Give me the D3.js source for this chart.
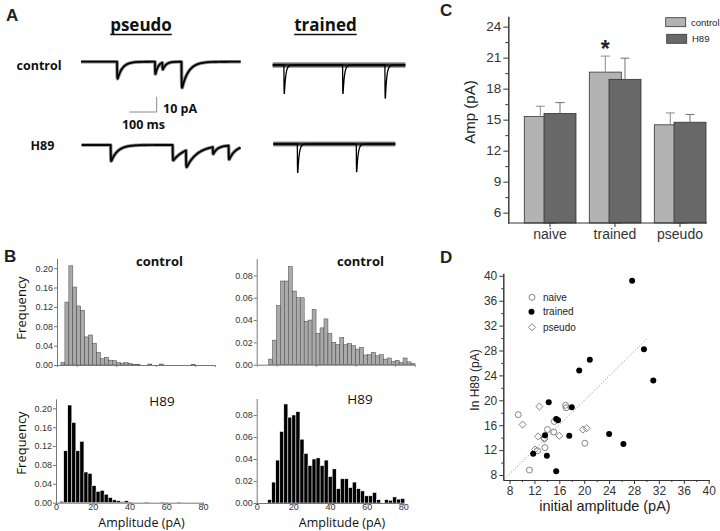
<!DOCTYPE html>
<html>
<head>
<meta charset="utf-8">
<script src="https://cdn.jsdelivr.net/npm/d3@7"></script>
<style>
body { margin: 0; background: #fff; }
svg { display: block; background: #fff; }
.ax path, .ax line { stroke: #777; }
.axd path, .axd line { stroke: #333; }
.ax text, .axd text { font-family: Arial, 'Liberation Sans', sans-serif; fill: #333; }
.cal { font-family: 'Open Sans', sans-serif; fill: #111; }
.ar { font-family: Arial, 'Liberation Sans', sans-serif; fill: #222; }
</style>
</head>
<body>
<svg id="fig" width="720" height="531"></svg>
<script>
/*=================
=== Data
=================*/
// A: synaptic events in each trace [onset ms, amplitude pA, decay ms]
var pseudoCtrlEvents = [[132, 11, 18], [271, 8, 10], [298, 4.5, 12], [368, 17, 24]];
var trainedCtrlEvents = [[41, 19, 5], [256, 19, 5], [411, 22, 5]];
var pseudoH89Events = [[106, 10.5, 24], [333, 10, 45], [382, 11, 40], [480, 4.5, 14], [538, 9, 24]];
var trainedH89Events = [[88, 19, 5], [304, 18.5, 5]];
var traceDur = [585, 486, 582, 447]; // ms

// B: amplitude histograms (frequency per bin)
var binStart = [2, 6, 2, 6];          // pA, first bin of each panel
var binWidth = [2, 2, 2.2, 2.2];      // pA
var freqPseudoCtrl = [0.005, 0.13, 0.205, 0.161, 0.122, 0.113, 0.058, 0.062, 0.045, 0.026, 0.013, 0.016,
	0.01, 0.009, 0.005, 0.004, 0.005, 0.003, 0.001, 0.001, 0, 0, 0.002, 0, 0, 0.002, 0, 0, 0, 0, 0, 0, 0, 0.001];
var freqTrainedCtrl = [0.005, 0.022, 0.053, 0.075, 0.075, 0.088, 0.066, 0.06, 0.06, 0.039, 0.04, 0.0495,
	0.028, 0.033, 0.041, 0.028, 0.02, 0.018, 0.0245, 0.018, 0.019, 0.017, 0.014, 0.0155, 0.0087, 0.009,
	0.011, 0.008, 0.009, 0.005, 0.006, 0.003, 0.004, 0.002, 0.006, 0.0025, 0.001];
var freqPseudoH89 = [0.003, 0.11, 0.207, 0.17, 0.11, 0.13, 0.065, 0.062, 0.036, 0.024, 0.026, 0.018,
	0.011, 0.006, 0.004, 0.002, 0.004, 0.001, 0, 0, 0, 0.001, 0, 0, 0, 0.001, 0, 0, 0, 0.001];
var freqTrainedH89 = [0.003, 0.019, 0.039, 0.065, 0.090, 0.078, 0.080, 0.083, 0.058, 0.045, 0.034, 0.040,
	0.041, 0.034, 0.039, 0.024, 0.031, 0.013, 0.022, 0.022, 0.014, 0.019, 0.013, 0.011, 0.0065, 0.0065,
	0.0095, 0.003, 0, 0.003, 0.0025, 0.0055, 0.0035, 0.004];
var freqTicksPseudo = [0, 0.04, 0.08, 0.12, 0.16, 0.20];
var freqTicksTrained = [0, 0.02, 0.04, 0.06, 0.08];
var ampTicks = [0, 20, 40, 60, 80];

// C: mean amplitude +/- SEM
var groups = ['naive', 'trained', 'pseudo'];
var ctrlMean = [15.3, 19.6, 14.5];
var ctrlSem = [1.0, 1.55, 1.15];
var h89Mean = [15.6, 18.9, 14.75];
var h89Sem = [1.05, 2.05, 0.75];
var ampTicksC = [6, 9, 12, 15, 18, 21, 24];

// D: initial amplitude vs amplitude in H89 [x, y]
var naivePts = [[9.4, 17.7], [11.2, 8.8], [12.5, 11.9], [14.1, 15.3], [15.1, 14.9], [15.2, 16.6],
	[17.0, 19.2], [17.1, 18.8], [13.7, 12.4], [20.1, 13.1], [13.6, 13.9]];
var trainedPts = [[27.7, 39.2], [29.6, 28.2], [20.9, 26.5], [19.2, 24.8], [31.1, 23.2], [14.3, 19.7],
	[18.0, 18.9], [15.5, 17.0], [15.8, 16.8], [13.7, 14.4], [17.6, 14.3], [24.0, 14.6], [26.3, 13.0],
	[11.8, 11.4], [14.0, 11.1], [15.5, 8.6]];
var pseudoPts = [[12.8, 19.0], [10.1, 16.1], [12.6, 14.2], [13.6, 13.8], [12.1, 12.1], [16.0, 14.3],
	[19.8, 15.3], [20.4, 15.5]];
var fitLine = [[7.2, 7.4], [30.1, 29.9]];
var scatterTicks = [8, 12, 16, 20, 24, 28, 32, 36, 40];
var scatterMinor = [10, 14, 18, 22, 26, 30, 34, 38];

var svg = d3.select('#fig');

function panelLabel(txt, x, y) {
	svg.append('text').attr('class', 'ar').attr('x', x).attr('y', y)
		.attr('font-size', 17).attr('font-weight', 'bold').attr('fill', '#000').text(txt);
}

/*=================
=== A: traces
=================*/
var msScale = d3.scaleLinear([0, 100], [0, 27.3]);
var paScale = d3.scaleLinear([0, 10], [0, 15.3]);

function current(events, t) {
	var v = 0;
	events.forEach(e => {
		var dt = t - e[0];
		if (dt < 0) return;
		var r = 0.6, d = e[2];
		var tp = r * Math.log((r + d) / r);
		var peak = (1 - Math.exp(-tp / r)) * Math.exp(-tp / d);
		v -= e[1] * (1 - Math.exp(-dt / r)) * Math.exp(-dt / d) / peak;
	});
	return v;
}

// band = width of the noisy baseline; slow traces carry the band along the events
function drawTrace(events, dur, x0, base, band, bandFollows) {
	var x = d3.scaleLinear([0, dur], [x0, x0 + msScale(dur)]);
	var y = d3.scaleLinear([-10, 0], [base + paScale(10), base]);
	var pts = d3.range(0, dur, 0.5).map(t => [t, current(events, t)]);
	var line = d3.line().x(d => x(d[0])).y(d => y(d[1]));
	var bandPts = bandFollows ? pts : [[0, 0], [dur, 0]];
	svg.append('path').attr('d', line(bandPts)).attr('fill', 'none')
		.attr('stroke', '#8a8a8a').attr('stroke-width', band).attr('stroke-linejoin', 'round');
	svg.append('path').attr('d', line(bandPts)).attr('fill', 'none')
		.attr('stroke', '#222').attr('stroke-width', band * 0.5).attr('stroke-linejoin', 'round');
	svg.append('path').attr('d', line(pts)).attr('fill', 'none')
		.attr('stroke', '#000').attr('stroke-width', 1.3);
}

panelLabel('A', 6, 21);

[['pseudo', 141], ['trained', 325.5]].forEach(d => {
	var t = svg.append('text').attr('class', 'cal').attr('x', d[1]).attr('y', 31)
		.attr('text-anchor', 'middle').attr('font-size', 17).attr('font-weight', 'bold').text(d[0]);
	var w = t.node().getComputedTextLength();
	svg.append('line').attr('x1', d[1] - w / 2).attr('x2', d[1] + w / 2)
		.attr('y1', 34.5).attr('y2', 34.5).attr('stroke', '#111').attr('stroke-width', 1.4);
});

svg.append('text').attr('class', 'cal').attr('x', 16.5).attr('y', 70)
	.attr('font-size', 12.5).attr('font-weight', 'bold').text('control');
svg.append('text').attr('class', 'cal').attr('x', 30.5).attr('y', 150)
	.attr('font-size', 12.5).attr('font-weight', 'bold').text('H89');

drawTrace(pseudoCtrlEvents, traceDur[0], 81, 61.7, 3.6, true);
drawTrace(trainedCtrlEvents, traceDur[1], 272.7, 65, 5.5, false);
drawTrace(pseudoH89Events, traceDur[2], 81.7, 145, 3.6, true);
drawTrace(trainedH89Events, traceDur[3], 273.3, 144, 5, false);

// scale bar
var sbX = 156.7, sbY = 112;
svg.append('path')
	.attr('d', `M${sbX - msScale(100)},${sbY}H${sbX}V${sbY - paScale(10)}`)
	.attr('fill', 'none').attr('stroke', '#888').attr('stroke-width', 1);
svg.append('text').attr('class', 'cal').attr('x', 163).attr('y', 113)
	.attr('font-size', 12.5).attr('font-weight', 'bold').text('10 pA');
svg.append('text').attr('class', 'cal').attr('x', 143.5).attr('y', 129)
	.attr('text-anchor', 'middle').attr('font-size', 12.5).attr('font-weight', 'bold').text('100 ms');

/*=================
=== B: histograms
=================*/
panelLabel('B', 4, 262);

function drawHist(freq, i, xr, yr, ymax, yticks, xlab, fill, stroke) {
	var g = svg.append('g');
	var x = d3.scaleLinear([0, 80], xr);
	var y = d3.scaleLinear([0, ymax], yr);

	g.selectAll('rect').data(freq).join('rect')
		.attr('x', (d, k) => x(binStart[i] + k * binWidth[i]))
		.attr('width', x(binWidth[i]) - x(0))
		.attr('y', d => y(d))
		.attr('height', d => y(0) - y(d))
		.attr('fill', fill).attr('stroke', stroke).attr('stroke-width', 0.5);

	var xAxis = d3.axisBottom(x).tickSizeOuter(0).tickSize(2).tickPadding(-1);
	if (xlab) xAxis.tickValues(ampTicks).tickFormat(d3.format('d'));
	else xAxis.tickValues([10, 30, 50, 70]).tickFormat('');
	g.append('g').attr('class', 'ax').attr('transform', `translate(0,${y(0)})`)
		.call(xAxis).attr('font-size', 9).attr('font-family', null);

	g.append('g').attr('class', 'ax').attr('transform', `translate(${xr[0]},0)`)
		.call(d3.axisLeft(y).tickValues(yticks).tickFormat(d3.format('.2f')).tickSize(3).tickPadding(1).tickSizeOuter(0))
		.attr('font-size', 9).attr('font-family', null);

	if (xlab) {
		svg.append('text').attr('class', 'cal').attr('x', (xr[0] + xr[1]) / 2 + 12).attr('y', 526.5)
			.attr('text-anchor', 'middle').attr('font-size', 12.5).attr('fill', '#222').text('Amplitude (pA)');
	}
}

drawHist(freqPseudoCtrl, 0, [57, 215], [365, 258.5], 0.22, freqTicksPseudo, false, '#aaa', '#444');
drawHist(freqTrainedCtrl, 1, [256.7, 415], [364.7, 258.7], 0.095, freqTicksTrained, false, '#aaa', '#444');
drawHist(freqPseudoH89, 2, [56, 203], [502.7, 398.9], 0.22, freqTicksPseudo, true, '#000', '#fff');
drawHist(freqTrainedH89, 3, [256.7, 403.3], [503, 398.5], 0.095, freqTicksTrained, true, '#000', '#fff');

[[159.5, 266], [360.5, 266]].forEach(d => {
	svg.append('text').attr('class', 'cal').attr('x', d[0]).attr('y', d[1])
		.attr('text-anchor', 'middle').attr('font-size', 13).attr('font-weight', 'bold').text('control');
});
[[162, 406], [360, 404]].forEach(d => {
	svg.append('text').attr('class', 'cal').attr('x', d[0]).attr('y', d[1])
		.attr('text-anchor', 'middle').attr('font-size', 13.5).text('H89');
});
[308, 443].forEach(cy => {
	svg.append('text').attr('class', 'cal').attr('transform', `translate(26,${cy}) rotate(-90)`)
		.attr('text-anchor', 'middle').attr('font-size', 13).attr('fill', '#222').text('Frequency');
});

/*=================
=== C: bar chart
=================*/
panelLabel('C', 440, 16);

var xC = d3.scaleBand(groups, [517.5, 712.5]);
var yC = d3.scaleLinear([5, 25], [223, 16.3]);
var gC = svg.append('g');
var barW = 32;

function drawBars(means, sems, off, fill, errCol) {
	gC.selectAll(null).data(means).join('rect')
		.attr('x', (d, i) => xC(groups[i]) + xC.bandwidth() / 2 + off)
		.attr('y', d => yC(d))
		.attr('width', barW)
		.attr('height', d => yC(5) - yC(d))
		.attr('fill', fill).attr('stroke', '#333').attr('stroke-width', 0.8);
	var cx = i => xC(groups[i]) + xC.bandwidth() / 2 + off + barW / 2;
	gC.selectAll(null).data(means).join('path')
		.attr('d', (d, i) => `M${cx(i)},${yC(d)}V${yC(d + sems[i])}M${cx(i) - 4.5},${yC(d + sems[i])}H${cx(i) + 4.5}`)
		.attr('fill', 'none').attr('stroke', errCol).attr('stroke-width', 1);
}
drawBars(ctrlMean, ctrlSem, -25.7, '#b3b3b3', '#8a8a8a');
drawBars(h89Mean, h89Sem, -6, '#686868', '#707070');

gC.append('g').attr('class', 'axd').attr('transform', 'translate(508.3,0)')
	.call(d3.axisLeft(yC).tickValues(d3.range(7.5, 25, 3)).tickFormat('').tickSize(3).tickSizeOuter(0));
gC.append('g').attr('class', 'axd').attr('transform', 'translate(508.3,0)')
	.call(d3.axisLeft(yC).tickValues(ampTicksC).tickSize(5).tickPadding(2).tickSizeOuter(0))
	.attr('font-size', 13.5).attr('font-family', null);
var xAxC = gC.append('g').attr('class', 'axd').attr('transform', `translate(0,${yC(5)})`)
	.call(d3.axisBottom(xC).tickSize(4).tickPadding(2).tickSizeOuter(0))
	.attr('font-size', 14).attr('font-family', null);
xAxC.select('.domain').attr('d', 'M508.3,0H707');

svg.append('text').attr('class', 'ar').attr('transform', 'translate(475,112) rotate(-90)')
	.attr('text-anchor', 'middle').attr('font-size', 15).text('Amp (pA)');
svg.append('text').attr('class', 'ar').attr('x', xC('trained') + xC.bandwidth() / 2 - 9.7).attr('y', 57)
	.attr('text-anchor', 'middle').attr('font-size', 23).attr('font-weight', 'bold').attr('fill', '#000').text('*');

// legend
[['control', '#b3b3b3', 17.7], ['H89', '#686868', 34.3]].forEach((d, i) => {
	svg.append('rect').attr('x', 665.7 + i).attr('y', d[2]).attr('width', 20).attr('height', 9)
		.attr('fill', d[1]).attr('stroke', '#333').attr('stroke-width', 0.8);
	svg.append('text').attr('class', 'ar').attr('x', 691 + i).attr('y', d[2] + 8)
		.attr('font-size', 9.5).text(d[0]);
});

/*=================
=== D: scatter
=================*/
panelLabel('D', 440, 263);

var xD = d3.scaleLinear([7, 40.1], [503.3, 709.3]);
var yD = d3.scaleLinear([7.2, 40.4], [480, 273.3]);
var gD = svg.append('g');

gD.append('path').attr('d', d3.line().x(d => xD(d[0])).y(d => yD(d[1]))(fitLine))
	.attr('stroke', '#888').attr('stroke-width', 1).attr('stroke-dasharray', '1,2').attr('fill', 'none');

var diamond = d3.symbol().type(d3.symbolDiamond2).size(32);
gD.selectAll('.pd').data(pseudoPts).join('path').attr('class', 'pd')
	.attr('transform', d => `translate(${xD(d[0])},${yD(d[1])})`).attr('d', diamond)
	.attr('fill', 'none').attr('stroke', '#777').attr('stroke-width', 0.9);
gD.selectAll('.nv').data(naivePts).join('circle').attr('class', 'nv')
	.attr('cx', d => xD(d[0])).attr('cy', d => yD(d[1])).attr('r', 3)
	.attr('fill', 'none').attr('stroke', '#777').attr('stroke-width', 0.9);
gD.selectAll('.tr').data(trainedPts).join('circle').attr('class', 'tr')
	.attr('cx', d => xD(d[0])).attr('cy', d => yD(d[1])).attr('r', 3)
	.attr('fill', '#000');

[[yD, 'axisLeft', 'translate(503.3,0)'], [xD, 'axisBottom', 'translate(0,480)']].forEach(a => {
	gD.append('g').attr('class', 'axd').attr('transform', a[2])
		.call(d3[a[1]](a[0]).tickValues(scatterMinor).tickFormat('').tickSize(2).tickSizeOuter(0));
	gD.append('g').attr('class', 'axd').attr('transform', a[2])
		.call(d3[a[1]](a[0]).tickValues(scatterTicks).tickSize(4).tickPadding(2).tickSizeOuter(0))
		.attr('font-size', 12).attr('font-family', null);
});

svg.append('text').attr('class', 'ar').attr('transform', 'translate(479,380) rotate(-90)')
	.attr('text-anchor', 'middle').attr('font-size', 12).text('In H89 (pA)');
svg.append('text').attr('class', 'ar').attr('x', 605).attr('y', 511)
	.attr('text-anchor', 'middle').attr('font-size', 14.5).text('initial amplitude (pA)');

// legend
var legY = [297.3, 311.7, 327.3];
gD.append('circle').attr('cx', 532).attr('cy', legY[0]).attr('r', 3)
	.attr('fill', 'none').attr('stroke', '#777').attr('stroke-width', 0.9);
gD.append('circle').attr('cx', 531.5).attr('cy', legY[1]).attr('r', 3).attr('fill', '#000');
gD.append('path').attr('transform', `translate(532,${legY[2]})`).attr('d', diamond)
	.attr('fill', 'none').attr('stroke', '#777').attr('stroke-width', 0.9);
['naive', 'trained', 'pseudo'].forEach((t, i) => {
	svg.append('text').attr('class', 'ar').attr('x', 543).attr('y', legY[i] + 3.5)
		.attr('font-size', 10).attr('fill', '#333').text(t);
});
</script>
</body>
</html>
